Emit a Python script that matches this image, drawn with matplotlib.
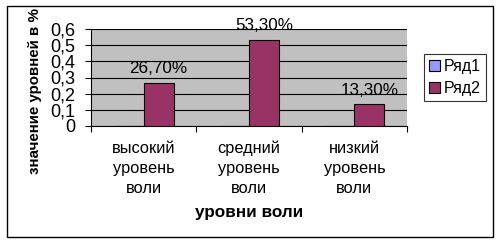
import matplotlib
matplotlib.use("Agg")
import matplotlib.pyplot as plt
import numpy as np
from matplotlib.patches import Rectangle

plt.rcParams['font.family'] = ['Liberation Sans', 'DejaVu Sans']

categories = ["высокий\nуровень\nволи", "средний\nуровень\nволи", "низкий\nуровень\nволи"]
series1 = [0, 0, 0]
series2 = [0.267, 0.533, 0.133]
labels2 = ["26,70%", "53,30%", "13,30%"]
yticks = [0, 0.1, 0.2, 0.3, 0.4, 0.5, 0.6]
ytick_labels = ["0", "0,1", "0,2", "0,3", "0,4", "0,5", "0,6"]

W, H = 502, 244
fig = plt.figure(figsize=(W/100, H/100), dpi=100)
fig.patch.set_facecolor('white')

# outer frame
fig.add_artist(Rectangle((7/W, 1-237/H), 486/W, 231/H, transform=fig.transFigure,
                         fill=False, edgecolor='black', linewidth=1))

ax = fig.add_axes([91/W, 1-126/H, 316/W, 97/H])
ax.set_facecolor('#C0C0C0')
x = np.arange(len(categories))
bw = 30/105.3
ax.bar(x - bw/2, series1, width=bw, color='#9999FF', edgecolor='black', linewidth=0.8, label='Ряд1', zorder=3)
ax.bar(x + bw/2, series2, width=bw, color='#993366', edgecolor='black', linewidth=0.8, label='Ряд2', zorder=3)
for xi, v, t in zip(x, series2, labels2):
    ax.text(xi + bw/2, v + 0.04, t, ha='center', va='bottom', fontsize=12.3, zorder=4)

ax.set_xlim(-0.5, 2.5)
ax.set_ylim(0, 0.6)
ax.set_yticks(yticks)
ax.set_yticklabels(ytick_labels, fontsize=13)
ax.yaxis.grid(True, color='black', linewidth=0.8, zorder=1)
ax.set_axisbelow(True)
ax.set_xticks([-0.5, 0.5, 1.5, 2.5])
ax.set_xticklabels([])
ax.tick_params(axis='x', direction='out', length=4, width=0.8)
ax.tick_params(axis='y', direction='out', length=4, width=0.8, pad=7)
for s in ['top', 'right']:
    ax.spines[s].set_visible(False)
for s in ['left', 'bottom']:
    ax.spines[s].set_linewidth(0.8)
for xi, c in zip(x, categories):
    ax.text(xi, -0.09, c, ha='center', va='top', fontsize=11.8, linespacing=1.42,
            transform=ax.transData, clip_on=False)

fig.text(35/W, 1-91.5/H, "значение уровней в %", rotation=90, ha='center', va='center',
         fontsize=10.9, fontweight='bold')
fig.text(249/W, 1-213/H, "уровни воли", ha='center', va='center', fontsize=12.3, fontweight='bold')

leg = ax.legend(loc='center', bbox_to_anchor=(455/W, 1-77.5/H), bbox_transform=fig.transFigure,
                frameon=True, fancybox=False, edgecolor='black', fontsize=11.5,
                handlelength=0.7, handleheight=0.7, handletextpad=0.25, borderpad=0.3,
                labelspacing=0.45, borderaxespad=0)
leg.get_frame().set_linewidth(0.8)

fig.savefig('out.png', dpi=100, facecolor='white')
